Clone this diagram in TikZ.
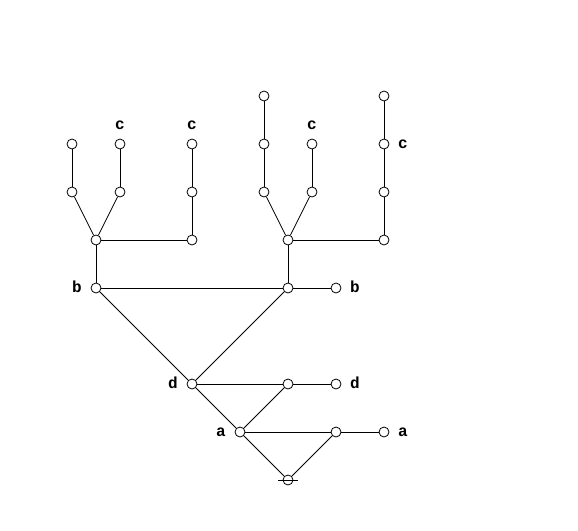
\documentclass[tikz,border=0pt]{standalone}
\usepackage{fontspec}
\newfontfamily\labfont{Liberation Mono}
\begin{document}
\begin{tikzpicture}[x=1pt,y=-1pt,
  vert/.style={circle,draw,fill=white,inner sep=0pt,minimum size=10pt,line width=0.8pt},
  edge/.style={line width=0.8pt},
  lab/.style={font={\fontsize{16}{16}\labfont\bfseries\selectfont},inner sep=0pt}]
\useasboundingbox (0,0) rectangle (578,530);
% nodes
\node[vert] (r) at (288,480) {};
\node[vert] (a1) at (240,432) {};
\node[vert] (a2) at (336,432) {};
\node[vert] (a3) at (384,432) {};
\node[vert] (d1) at (192,384) {};
\node[vert] (d2) at (288,384) {};
\node[vert] (d3) at (336,384) {};
\node[vert] (b1) at (96,288) {};
\node[vert] (b2) at (288,288) {};
\node[vert] (b3) at (336,288) {};
\node[vert] (l1) at (96,240) {};
\node[vert] (l2) at (192,240) {};
\node[vert] (l3) at (72,192) {};
\node[vert] (l4) at (120,192) {};
\node[vert] (l5) at (192,192) {};
\node[vert] (l6) at (72,144) {};
\node[vert] (l7) at (120,144) {};
\node[vert] (l8) at (192,144) {};
\node[vert] (m1) at (288,240) {};
\node[vert] (m2) at (384,240) {};
\node[vert] (m3) at (264,192) {};
\node[vert] (m4) at (312,192) {};
\node[vert] (m5) at (384,192) {};
\node[vert] (m6) at (264,144) {};
\node[vert] (m7) at (312,144) {};
\node[vert] (m8) at (384,144) {};
\node[vert] (m9) at (264,96) {};
\node[vert] (m10) at (384,96) {};
% tick on root
\coordinate (t1) at (278,480);
\coordinate (t2) at (298,480);
% edges
\draw[edge] (r) -- (a1);
\draw[edge] (r) -- (a2);
\draw[edge] (a1) -- (a2);
\draw[edge] (a2) -- (a3);
\draw[edge] (a1) -- (d1);
\draw[edge] (a1) -- (d2);
\draw[edge] (d1) -- (d2);
\draw[edge] (d2) -- (d3);
\draw[edge] (d1) -- (b1);
\draw[edge] (d1) -- (b2);
\draw[edge] (b1) -- (b2);
\draw[edge] (b2) -- (b3);
\draw[edge] (b1) -- (l1);
\draw[edge] (l1) -- (l2);
\draw[edge] (l1) -- (l3);
\draw[edge] (l1) -- (l4);
\draw[edge] (l2) -- (l5);
\draw[edge] (l3) -- (l6);
\draw[edge] (l4) -- (l7);
\draw[edge] (l5) -- (l8);
\draw[edge] (b2) -- (m1);
\draw[edge] (m1) -- (m2);
\draw[edge] (m1) -- (m3);
\draw[edge] (m1) -- (m4);
\draw[edge] (m2) -- (m5);
\draw[edge] (m3) -- (m6);
\draw[edge] (m6) -- (m9);
\draw[edge] (m4) -- (m7);
\draw[edge] (m5) -- (m8);
\draw[edge] (m8) -- (m10);
\draw[edge] (t1) -- (t2);
% labels
\node[lab] (la1) at (221,432) {a};
\node[lab] (la2) at (403,432) {a};
\node[lab] (ld1) at (173,383) {d};
\node[lab] (ld2) at (355,383) {d};
\node[lab] (lb1) at (77,287) {b};
\node[lab] (lb2) at (355,287) {b};
\node[lab] (lc1) at (120,125) {c};
\node[lab] (lc2) at (192,125) {c};
\node[lab] (lc3) at (312,125) {c};
\node[lab] (lc4) at (403,144) {c};
\end{tikzpicture}
\end{document}
